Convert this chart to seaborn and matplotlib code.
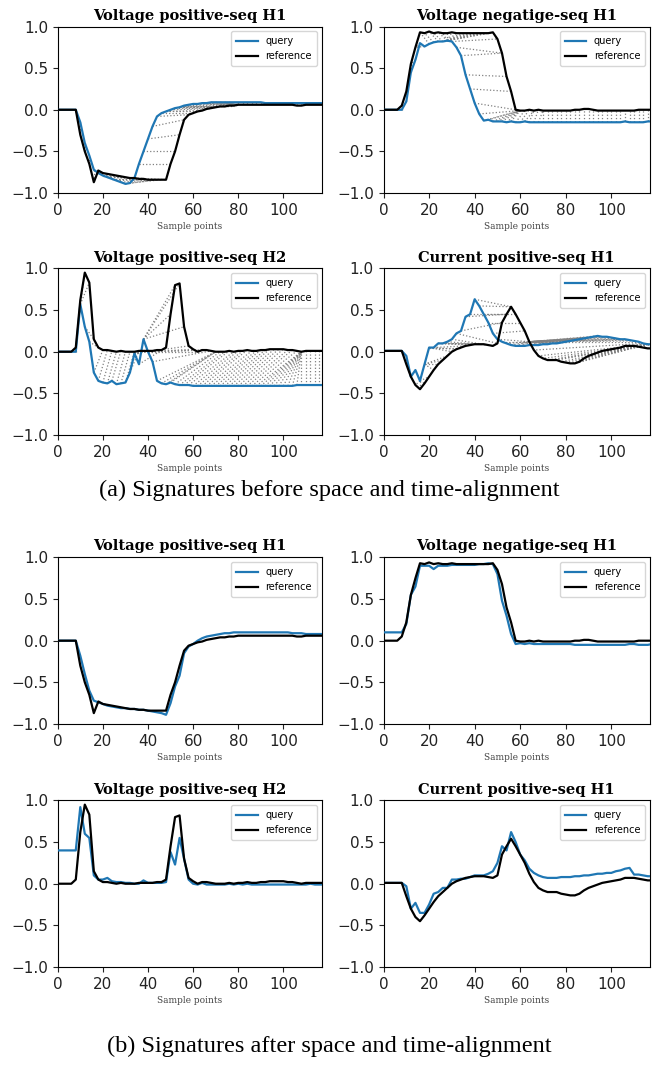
import numpy as np
import matplotlib
matplotlib.use("Agg")
import matplotlib.pyplot as plt
import seaborn as sns

# sample index (every 2nd sample)
x = np.arange(0, 119, 2)

titles = ["Voltage positive-seq H1", "Voltage negatige-seq H1",
          "Voltage positive-seq H2", "Current positive-seq H1"]

# reference signatures (black)
ref_vp_h1 = [0, 0, 0, 0, 0, -0.30, -0.50, -0.65, -0.87, -0.73,
             -0.76, -0.77, -0.78, -0.79, -0.80, -0.81, -0.82, -0.82, -0.83, -0.83,
             -0.84, -0.84, -0.84, -0.84, -0.84, -0.65, -0.50, -0.30, -0.12, -0.06,
             -0.04, -0.02, -0.01, 0.01, 0.02, 0.03, 0.04, 0.04, 0.05, 0.05,
             0.06, 0.06, 0.06, 0.06, 0.06, 0.06, 0.06, 0.06, 0.06, 0.06,
             0.06, 0.06, 0.06, 0.05, 0.05, 0.06, 0.06, 0.06, 0.06, 0.06]
ref_vn_h1 = [0, 0, 0, 0, 0.05, 0.22, 0.55, 0.75, 0.93, 0.92,
             0.94, 0.92, 0.93, 0.92, 0.92, 0.93, 0.92, 0.92, 0.92, 0.92,
             0.92, 0.92, 0.92, 0.92, 0.93, 0.85, 0.68, 0.40, 0.22, 0.00,
             -0.01, -0.01, 0.00, -0.01, 0.00, -0.01, -0.01, -0.01, -0.01, -0.01,
             -0.01, -0.01, 0.00, 0.00, 0.01, 0.01, 0.00, -0.01, -0.01, -0.01,
             -0.01, -0.01, -0.01, -0.01, -0.01, -0.01, 0.00, 0.00, 0.00, 0.00]
ref_vp_h2 = [0, 0, 0, 0, 0.05, 0.62, 0.95, 0.83, 0.15, 0.05,
             0.02, 0.02, 0.01, 0.00, 0.01, 0.00, 0.00, 0.00, 0.01, 0.01,
             0.01, 0.01, 0.02, 0.02, 0.05, 0.45, 0.80, 0.82, 0.30, 0.07,
             0.03, 0.00, 0.02, 0.02, 0.01, 0.00, 0.00, 0.00, 0.01, 0.00,
             0.01, 0.01, 0.02, 0.01, 0.01, 0.02, 0.02, 0.03, 0.03, 0.03,
             0.03, 0.02, 0.02, 0.01, 0.00, 0.01, 0.01, 0.01, 0.01, 0.01]
ref_ip_h1 = [0.01, 0.01, 0.01, 0.01, 0.01, -0.15, -0.30, -0.40, -0.45, -0.38,
             -0.30, -0.22, -0.15, -0.10, -0.05, 0.00, 0.03, 0.05, 0.07, 0.08,
             0.09, 0.09, 0.09, 0.08, 0.07, 0.10, 0.35, 0.45, 0.54, 0.45,
             0.35, 0.25, 0.12, 0.02, -0.05, -0.08, -0.10, -0.10, -0.10, -0.12,
             -0.13, -0.14, -0.14, -0.12, -0.08, -0.05, -0.03, -0.01, 0.01, 0.02,
             0.03, 0.04, 0.05, 0.07, 0.07, 0.07, 0.06, 0.05, 0.04, 0.04]

# query signatures before alignment (blue, panel a)
qa_vp_h1 = [0, 0, 0, 0, 0, -0.15, -0.40, -0.55, -0.72, -0.76,
            -0.79, -0.81, -0.83, -0.85, -0.87, -0.89, -0.88, -0.82, -0.65, -0.50,
            -0.35, -0.20, -0.08, -0.04, -0.02, 0.00, 0.02, 0.03, 0.05, 0.06,
            0.07, 0.07, 0.08, 0.08, 0.09, 0.09, 0.09, 0.09, 0.09, 0.09,
            0.09, 0.09, 0.09, 0.09, 0.09, 0.09, 0.08, 0.08, 0.08, 0.08,
            0.08, 0.08, 0.08, 0.08, 0.08, 0.08, 0.08, 0.08, 0.08, 0.08]
qa_vn_h1 = [0, 0, 0, 0, 0.00, 0.10, 0.45, 0.60, 0.80, 0.76,
            0.79, 0.81, 0.82, 0.82, 0.83, 0.82, 0.75, 0.65, 0.42, 0.25,
            0.08, -0.05, -0.13, -0.12, -0.14, -0.14, -0.14, -0.15, -0.14, -0.15,
            -0.15, -0.14, -0.15, -0.15, -0.15, -0.15, -0.15, -0.15, -0.15, -0.15,
            -0.15, -0.15, -0.15, -0.15, -0.15, -0.15, -0.15, -0.15, -0.15, -0.15,
            -0.15, -0.15, -0.15, -0.14, -0.15, -0.15, -0.15, -0.15, -0.14, -0.14]
qa_vp_h2 = [0, 0, 0, 0, 0.00, 0.57, 0.30, 0.12, -0.25, -0.35,
            -0.37, -0.38, -0.35, -0.39, -0.38, -0.37, -0.25, -0.02, -0.15, 0.15,
            0.00, -0.12, -0.35, -0.38, -0.39, -0.37, -0.39, -0.40, -0.40, -0.40,
            -0.41, -0.41, -0.41, -0.41, -0.41, -0.41, -0.41, -0.41, -0.41, -0.41,
            -0.41, -0.41, -0.41, -0.41, -0.41, -0.41, -0.41, -0.41, -0.41, -0.41,
            -0.41, -0.41, -0.41, -0.40, -0.40, -0.40, -0.40, -0.40, -0.40, -0.40]
qa_ip_h1 = [0.01, 0.01, 0.01, 0.01, 0.01, -0.05, -0.30, -0.22, -0.35, -0.15,
            0.05, 0.05, 0.10, 0.10, 0.12, 0.15, 0.22, 0.25, 0.42, 0.45,
            0.63, 0.55, 0.45, 0.35, 0.22, 0.15, 0.12, 0.10, 0.08, 0.07,
            0.07, 0.07, 0.08, 0.08, 0.08, 0.09, 0.09, 0.10, 0.10, 0.11,
            0.12, 0.13, 0.14, 0.15, 0.16, 0.17, 0.18, 0.19, 0.18, 0.18,
            0.17, 0.16, 0.15, 0.15, 0.14, 0.13, 0.12, 0.10, 0.09, 0.09]

# query signatures after alignment (blue, panel b)
qb_vp_h1 = [0, 0, 0, 0, 0, -0.18, -0.40, -0.60, -0.72, -0.74,
            -0.76, -0.78, -0.79, -0.80, -0.81, -0.81, -0.82, -0.82, -0.83, -0.83,
            -0.84, -0.85, -0.86, -0.87, -0.89, -0.75, -0.55, -0.42, -0.15, -0.07,
            -0.04, 0.00, 0.03, 0.05, 0.06, 0.07, 0.08, 0.09, 0.09, 0.10,
            0.10, 0.10, 0.10, 0.10, 0.10, 0.10, 0.10, 0.10, 0.10, 0.10,
            0.10, 0.10, 0.09, 0.09, 0.09, 0.08, 0.08, 0.08, 0.08, 0.08]
qb_vn_h1 = [0.10, 0.10, 0.10, 0.10, 0.10, 0.20, 0.55, 0.65, 0.90, 0.90,
            0.90, 0.86, 0.90, 0.90, 0.90, 0.91, 0.91, 0.91, 0.91, 0.91,
            0.91, 0.92, 0.92, 0.93, 0.92, 0.80, 0.48, 0.30, 0.08, -0.04,
            -0.03, -0.04, -0.03, -0.04, -0.04, -0.04, -0.04, -0.04, -0.04, -0.04,
            -0.04, -0.04, -0.05, -0.05, -0.05, -0.05, -0.05, -0.05, -0.05, -0.05,
            -0.05, -0.05, -0.05, -0.05, -0.04, -0.04, -0.05, -0.05, -0.05, -0.04]
qb_vp_h2 = [0.40, 0.40, 0.40, 0.40, 0.40, 0.92, 0.60, 0.55, 0.10, 0.05,
            0.05, 0.07, 0.03, 0.02, 0.02, 0.01, 0.01, 0.00, 0.00, 0.04,
            0.01, 0.01, 0.01, 0.01, 0.02, 0.38, 0.23, 0.55, 0.30, 0.05,
            0.00, -0.01, 0.01, -0.01, -0.01, -0.01, -0.01, -0.01, 0.00, -0.01,
            0.00, -0.01, 0.00, -0.01, -0.01, -0.01, -0.01, -0.01, -0.01, -0.01,
            -0.01, -0.01, -0.01, -0.01, -0.01, -0.01, 0.00, -0.01, -0.01, -0.01]
qb_ip_h1 = [0.01, 0.01, 0.01, 0.01, 0.01, -0.03, -0.30, -0.23, -0.35, -0.35,
            -0.25, -0.12, -0.10, -0.05, -0.05, 0.05, 0.05, 0.06, 0.06, 0.08,
            0.10, 0.10, 0.10, 0.12, 0.15, 0.25, 0.45, 0.40, 0.62, 0.50,
            0.35, 0.28, 0.18, 0.13, 0.10, 0.08, 0.07, 0.07, 0.07, 0.08,
            0.08, 0.08, 0.09, 0.09, 0.10, 0.10, 0.11, 0.12, 0.12, 0.13,
            0.13, 0.15, 0.16, 0.18, 0.19, 0.11, 0.11, 0.10, 0.09, 0.09]

refs = [ref_vp_h1, ref_vn_h1, ref_vp_h2, ref_ip_h1]
queries_a = [qa_vp_h1, qa_vn_h1, qa_vp_h2, qa_ip_h1]
queries_b = [qb_vp_h1, qb_vn_h1, qb_vp_h2, qb_ip_h1]


def dtw_path(a, b):
    a = np.asarray(a); b = np.asarray(b)
    n, m = len(a), len(b)
    D = np.full((n + 1, m + 1), np.inf)
    D[0, 0] = 0
    for i in range(1, n + 1):
        for j in range(1, m + 1):
            c = abs(a[i - 1] - b[j - 1])
            D[i, j] = c + min(D[i - 1, j], D[i, j - 1], D[i - 1, j - 1])
    i, j = n, m
    path = []
    while i > 0 and j > 0:
        path.append((i - 1, j - 1))
        k = np.argmin([D[i - 1, j - 1], D[i - 1, j], D[i, j - 1]])
        if k == 0:
            i, j = i - 1, j - 1
        elif k == 1:
            i -= 1
        else:
            j -= 1
    return path[::-1]


fig = plt.figure(figsize=(6.59, 10.73), dpi=100)

lefts = [0.0876, 0.582]
widths = [0.4006, 0.4044]
bottoms = [0.8201, 0.5946, 0.3253, 0.0988]
h = 0.1552

blue = "#1f77b4"


def draw(ax, q, r, title, warp):
    if warp:
        for i, j in dtw_path(q, r):
            ax.plot([x[i], x[j]], [q[i], r[j]], ls=":", color="gray", lw=0.9, zorder=1)
    sns.lineplot(x=x, y=q, ax=ax, color=blue, lw=1.6, label="query", zorder=3)
    sns.lineplot(x=x, y=r, ax=ax, color="black", lw=1.6, label="reference", zorder=4)
    ax.set_xlim(0, 117)
    ax.set_ylim(-1, 1)
    ax.set_xticks([0, 20, 40, 60, 80, 100])
    ax.set_yticks([-1.0, -0.5, 0.0, 0.5, 1.0])
    ax.tick_params(labelsize=11, length=3.5, colors="#222222")
    ax.set_title(title, fontfamily="DejaVu Serif", fontweight="bold", fontsize=10.5, pad=5)
    ax.set_xlabel("Sample points", fontfamily="DejaVu Serif", fontsize=6.5, color="#444444", labelpad=3)
    ax.set_ylabel("")
    ax.legend(loc="upper right", fontsize=7, handlelength=2.2, borderpad=0.5, labelspacing=0.5)


for k in range(4):
    row, col = divmod(k, 2)
    ax = fig.add_axes([lefts[col], bottoms[row], widths[col], h])
    draw(ax, queries_a[k], refs[k], titles[k], True)
    ax2 = fig.add_axes([lefts[col], bottoms[row + 2], widths[col], h])
    draw(ax2, queries_b[k], refs[k], titles[k], False)

fig.text(0.5, 1 - 490 / 1073, "(a) Signatures before space and time-alignment",
         ha="center", va="center", fontfamily="Liberation Serif", fontsize=17.5)
fig.text(0.5, 1 - 1046 / 1073, "(b) Signatures after space and time-alignment",
         ha="center", va="center", fontfamily="Liberation Serif", fontsize=17.5)

fig.savefig("out.png", dpi=100)
